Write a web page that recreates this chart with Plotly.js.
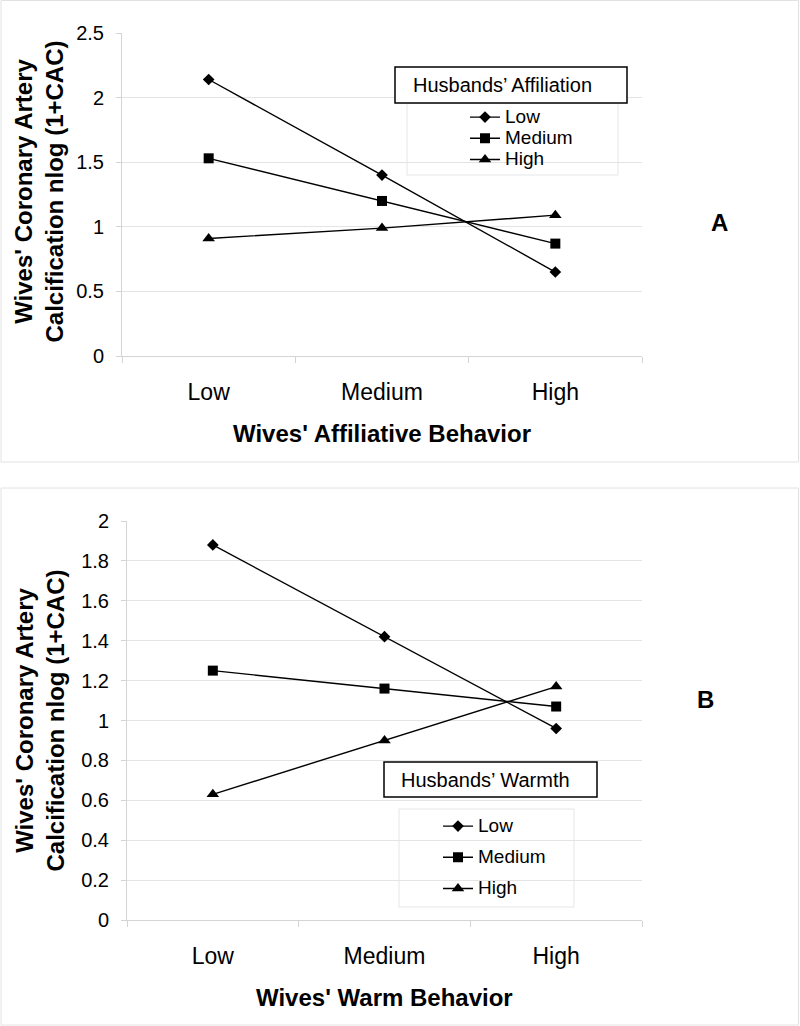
<!DOCTYPE html>
<html>
<head>
<meta charset="utf-8">
<script src="https://cdn.plot.ly/plotly-3.0.1.min.js"></script>
<style>html,body{margin:0;padding:0;background:#fff;}#chart{width:800px;height:1026px;}</style>
</head>
<body>
<div id="chart"></div>
<script>
// ---- data ----
const categories = ['Low', 'Medium', 'High'];
const seriesNames = ['Low', 'Medium', 'High'];
// Panel A: Husbands' Affiliation x Wives' Affiliative Behavior
const affLow = [2.14, 1.40, 0.65];
const affMedium = [1.53, 1.20, 0.87];
const affHigh = [0.91, 0.99, 1.09];
// Panel B: Husbands' Warmth x Wives' Warm Behavior
const warmLow = [1.88, 1.42, 0.96];
const warmMedium = [1.25, 1.16, 1.07];
const warmHigh = [0.63, 0.90, 1.17];
const yTitle = "Wives' Coronary Artery<br>Calcification nlog (1+CAC)";
const xTitleA = "Wives' Affiliative Behavior";
const xTitleB = "Wives' Warm Behavior";
const legendTitleA = "Husbands’ Affiliation";
const legendTitleB = "Husbands’ Warmth";

// ---- layout helpers (pixel -> paper) ----
const W = 800, H = 1026;
const px = x => x / W;
const py = y => 1 - y / H;
const symbols = ['diamond', 'square', 'triangle-up'];
const sizes = [9, 10, 11];
const FONT = 'Liberation Sans, Arial, sans-serif';
const grey = '#d4d4d4';

function mk(vals, i, xa, ya, leg) {
  return {
    type: 'scatter', mode: 'lines+markers',
    x: categories, y: vals, xaxis: xa, yaxis: ya,
    name: '<span style="font-size:19px">' + seriesNames[i] + '</span>',
    legend: leg, legendgroup: leg + i,
    line: {color: '#000', width: 1.4},
    marker: {symbol: symbols[i], size: sizes[i], color: '#000'},
    hoverinfo: 'x+y'
  };
}

const data = [
  mk(affLow, 0, 'x', 'y', 'legend'),
  mk(affMedium, 1, 'x', 'y', 'legend'),
  mk(affHigh, 2, 'x', 'y', 'legend'),
  mk(warmLow, 0, 'x2', 'y2', 'legend2'),
  mk(warmMedium, 1, 'x2', 'y2', 'legend2'),
  mk(warmHigh, 2, 'x2', 'y2', 'legend2')
];

function xax(dom, anchor) {
  return {
    domain: dom, anchor: anchor, type: 'category', range: [-0.5, 2.5],
    tickson: 'boundaries', ticks: 'outside', ticklen: 6, tickcolor: grey,
    showline: true, linecolor: grey, linewidth: 1, showgrid: false, zeroline: false,
    tickfont: {family: FONT, size: 23, color: '#000'}, ticklabelstandoff: 15,
    fixedrange: true
  };
}
function yax(dom, anchor, range, dtick) {
  return {
    domain: dom, anchor: anchor, range: range, dtick: dtick,
    ticks: 'outside', ticklen: 5, tickcolor: grey,
    showline: true, linecolor: grey, linewidth: 1,
    showgrid: true, gridcolor: '#e4e4e4', gridwidth: 1, zeroline: false,
    tickfont: {family: FONT, size: 20, color: '#000'}, ticklabelstandoff: 8,
    fixedrange: true
  };
}

const legendBase = {
  orientation: 'v', xanchor: 'left', yanchor: 'top',
  bgcolor: 'rgba(0,0,0,0)', borderwidth: 0,
  font: {family: FONT, size: 14, color: '#000'},
  traceorder: 'grouped', itemclick: false, itemdoubleclick: false
};

const layout = {
  width: W, height: H,
  margin: {l: 0, r: 0, t: 0, b: 0},
  paper_bgcolor: '#fff', plot_bgcolor: '#fff',
  showlegend: true,
  font: {family: FONT, color: '#000'},
  xaxis: xax([px(122), px(642)], 'y'),
  yaxis: yax([py(356), py(33)], 'x', [0, 2.5], 0.5),
  xaxis2: xax([px(127), px(642)], 'y2'),
  yaxis2: yax([py(920), py(521)], 'x2', [0, 2], 0.2),
  legend: Object.assign({}, legendBase, {x: px(465), y: py(101.5), tracegroupgap: 0}),
  legend2: Object.assign({}, legendBase, {x: px(438), y: py(810.5), tracegroupgap: 10}),
  shapes: [
    // panel frames
    {type: 'rect', xref: 'paper', yref: 'paper', x0: px(1), x1: px(798.5), y0: py(462), y1: py(0.5), line: {color: '#e2e2e2', width: 1}},
    {type: 'rect', xref: 'paper', yref: 'paper', x0: px(1), x1: px(798.5), y0: py(1025), y1: py(488), line: {color: '#e2e2e2', width: 1}},
    // legend boxes
    {type: 'rect', xref: 'paper', yref: 'paper', x0: px(407), x1: px(618), y0: py(175), y1: py(103), line: {color: '#e6e6e6', width: 1}, fillcolor: '#fff', layer: 'below'},
    {type: 'rect', xref: 'paper', yref: 'paper', x0: px(399), x1: px(574), y0: py(907), y1: py(809), line: {color: '#e6e6e6', width: 1}, fillcolor: '#fff', layer: 'below'},
    // legend title boxes
    {type: 'rect', xref: 'paper', yref: 'paper', x0: px(395), x1: px(627), y0: py(103), y1: py(67), line: {color: '#000', width: 1.5}, fillcolor: '#fff'},
    {type: 'rect', xref: 'paper', yref: 'paper', x0: px(384), x1: px(597), y0: py(797), y1: py(762), line: {color: '#000', width: 1.5}, fillcolor: '#fff'}
  ],
  annotations: [
    {text: legendTitleA, xref: 'paper', yref: 'paper', x: px(411), y: py(85), xanchor: 'left', yanchor: 'middle', showarrow: false, font: {family: FONT, size: 20, color: '#000'}},
    {text: legendTitleB, xref: 'paper', yref: 'paper', x: px(399), y: py(779.5), xanchor: 'left', yanchor: 'middle', showarrow: false, font: {family: FONT, size: 20, color: '#000'}},
    {text: yTitle, xref: 'paper', yref: 'paper', x: px(38.5), y: py(192), xanchor: 'center', yanchor: 'middle', textangle: -90, showarrow: false, font: {family: FONT, size: 24, color: '#000', weight: 'bold'}},
    {text: yTitle, xref: 'paper', yref: 'paper', x: px(39.5), y: py(721), xanchor: 'center', yanchor: 'middle', textangle: -90, showarrow: false, font: {family: FONT, size: 24, color: '#000', weight: 'bold'}},
    {text: xTitleA, xref: 'paper', yref: 'paper', x: px(382), y: py(433), xanchor: 'center', yanchor: 'middle', showarrow: false, font: {family: FONT, size: 24, color: '#000', weight: 'bold'}},
    {text: xTitleB, xref: 'paper', yref: 'paper', x: px(384), y: py(997), xanchor: 'center', yanchor: 'middle', showarrow: false, font: {family: FONT, size: 24, color: '#000', weight: 'bold'}},
    {text: 'A', xref: 'paper', yref: 'paper', x: px(719), y: py(223), xanchor: 'center', yanchor: 'middle', showarrow: false, font: {family: FONT, size: 24, color: '#000', weight: 'bold'}},
    {text: 'B', xref: 'paper', yref: 'paper', x: px(705), y: py(699), xanchor: 'center', yanchor: 'middle', showarrow: false, font: {family: FONT, size: 24, color: '#000', weight: 'bold'}}
  ]
};

Plotly.newPlot('chart', data, layout, {displayModeBar: false, staticPlot: true});
</script>
</body>
</html>
